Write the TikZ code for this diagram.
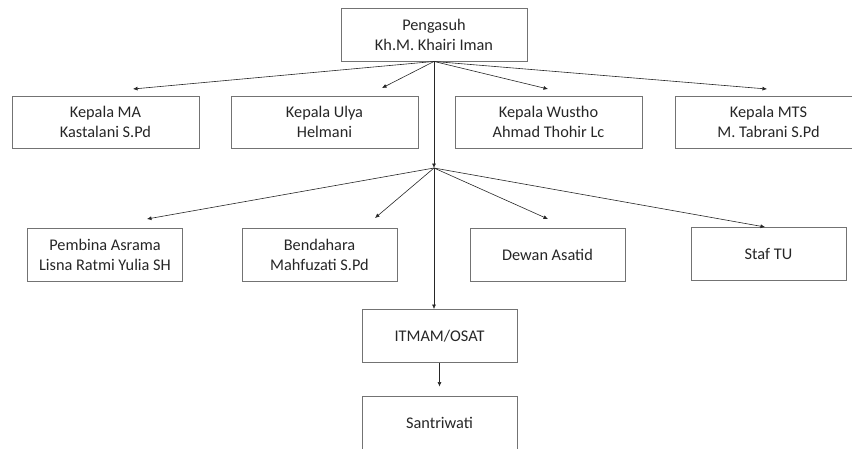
\documentclass[tikz,border=0pt]{standalone}
\usepackage{fontspec}
\setmainfont{Carlito}
\usetikzlibrary{arrows.meta,positioning}

\begin{document}
\begin{tikzpicture}[
    x=1pt, y=-1pt,
    box/.style={rectangle, draw=black!55, line width=0.9pt, minimum width=187pt, minimum height=52pt,
        inner sep=0, align=center, text=black!85, font=\fontsize{16.3}{20}\selectfont},
    smallbox/.style={box, minimum width=155pt, minimum height=53pt},
    link/.style={draw=black!85, line width=0.6pt, -{Latex[length=4.5pt,width=4pt]}}]
\useasboundingbox (0,0) rectangle (852,448);

\node[box, minimum width=186pt, minimum height=53pt] (peng) at (434,34.5) {Pengasuh\\Kh.M. Khairi Iman};
\node[box] (ma)     at (105.5,122) {Kepala MA\\Kastalani S.Pd};
\node[box] (ulya)   at (324.5,122) {Kepala Ulya\\Helmani};
\node[box] (wustho) at (548.5,122) {Kepala Wustho\\Ahmad Thohir Lc};
\node[box] (mts)    at (768.5,122) {Kepala MTS\\M. Tabrani S.Pd};

\node[smallbox] (pembina)   at (105,254.5)   {Pembina Asrama\\Lisna Ratmi Yulia SH};
\node[smallbox] (bendahara) at (319.5,254.5) {Bendahara\\Mahfuzati S.Pd};
\node[smallbox] (dewan)     at (547.5,254.5) {Dewan Asatid};
\node[smallbox] (staf)      at (768.5,254)   {Staf TU};
\node[smallbox] (itmam)     at (439.5,336)   {ITMAM/OSAT};
\node[smallbox] (santri)    at (439.5,422.5) {Santriwati};

\coordinate (hub) at (434,168);
\coordinate (tma) at (133,89);
\coordinate (tulya) at (382,88);
\coordinate (twustho) at (548,89);
\coordinate (tmts) at (767,89);
\coordinate (tpembina) at (147,219);
\coordinate (tbendahara) at (375,218);
\coordinate (tdewan) at (548,219);
\coordinate (tstaf) at (765,227);

\foreach \t in {tma,tulya,twustho,tmts}
    \draw[link] (peng.south) -- (\t);
\foreach \t in {tpembina,tbendahara,tdewan,tstaf}
    \draw[link] (hub) -- (\t);
\draw[link] (peng.south) -- (hub);
\draw[link] (hub) -- (hub |- itmam.north);
\draw[link] (itmam.south) -- ([yshift=9pt]santri.north);

\end{tikzpicture}
\end{document}
